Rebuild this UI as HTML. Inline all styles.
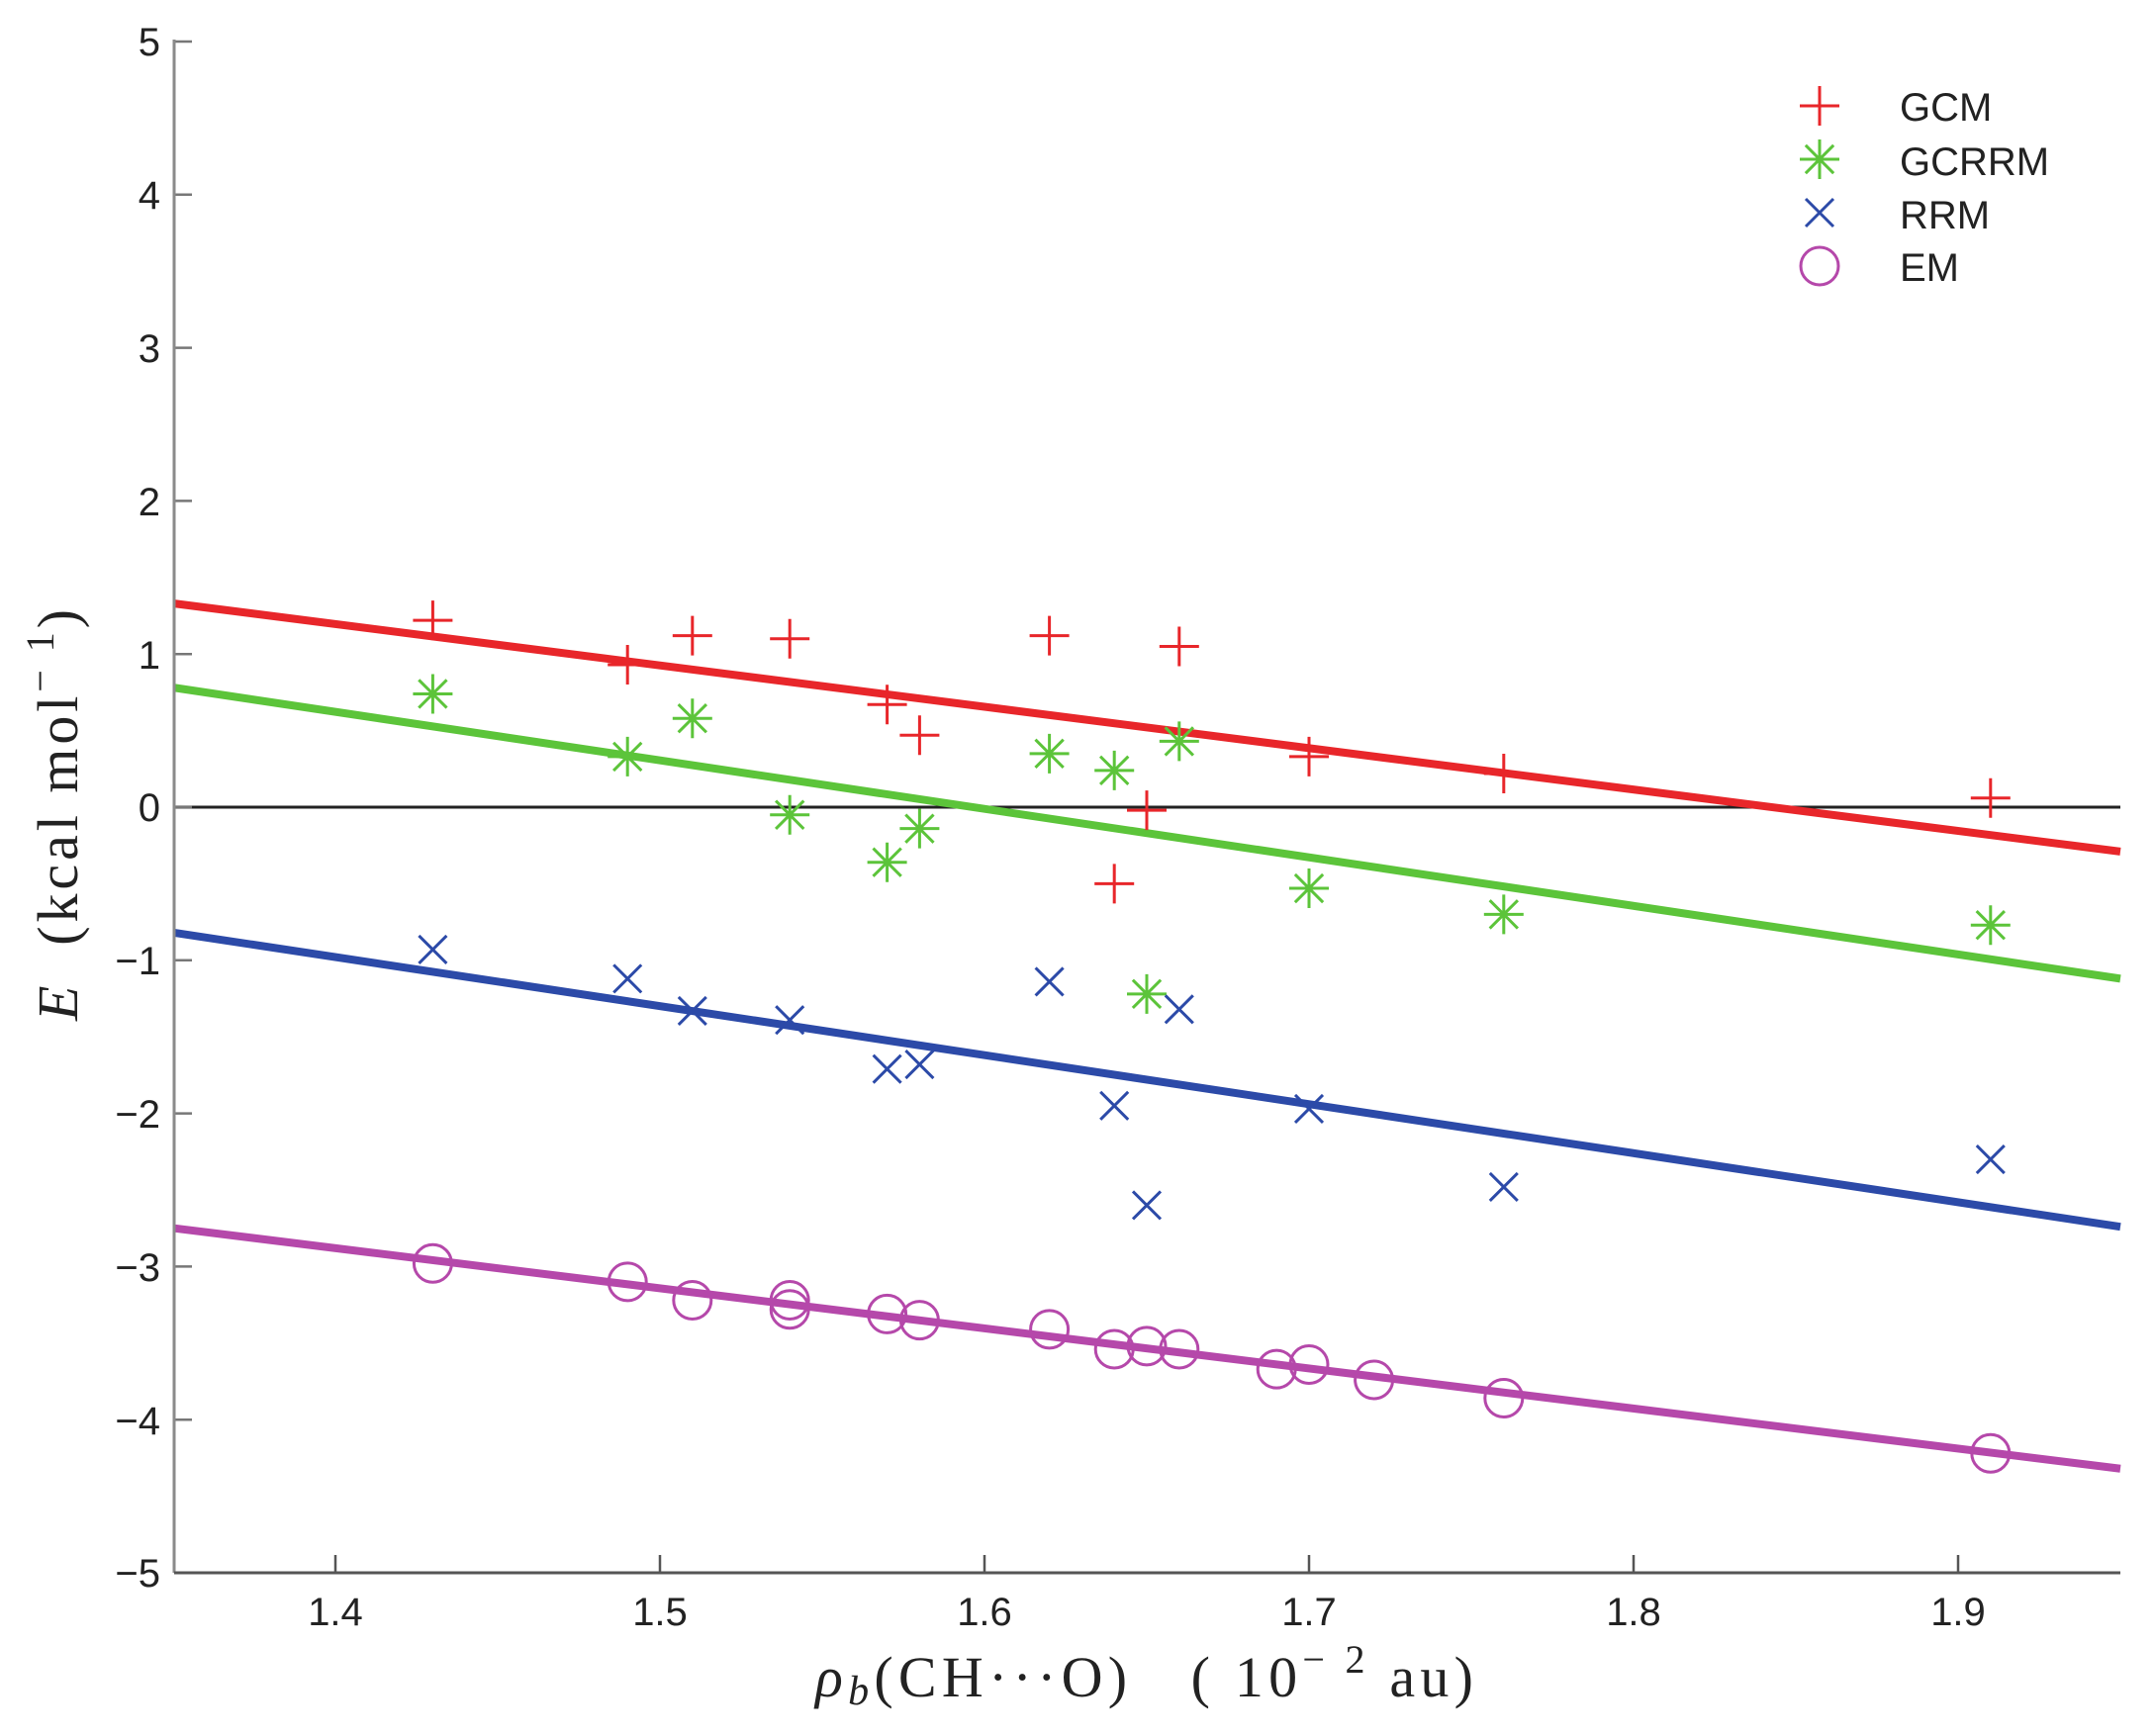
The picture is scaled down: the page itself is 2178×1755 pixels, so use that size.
<!DOCTYPE html>
<html><head><meta charset="utf-8"><style>
html,body{margin:0;padding:0;background:#fff;}
svg{display:block;}
</style></head><body>
<svg id="s" width="2178" height="1755" viewBox="0 0 2178 1755" xmlns="http://www.w3.org/2000/svg">
<rect width="2178" height="1755" fill="#fff"/>
<g id="plot"></g>
<line x1="176" y1="40" x2="176" y2="1590" stroke="#8a8a8a" stroke-width="3"/>
<line x1="176" y1="1590" x2="2143" y2="1590" stroke="#555" stroke-width="3"/>
<g font-family="Liberation Sans, sans-serif" font-size="40" fill="#222" text-anchor="end">
<text x="162" y="56">5</text>
<text x="162" y="211">4</text>
<text x="162" y="366">3</text>
<text x="162" y="521">2</text>
<text x="162" y="676">1</text>
<text x="162" y="830">0</text>
<text x="162" y="985">−1</text>
<text x="162" y="1140">−2</text>
<text x="162" y="1295">−3</text>
<text x="162" y="1450">−4</text>
<text x="162" y="1604">−5</text>
</g>
<g font-family="Liberation Sans, sans-serif" font-size="40" fill="#222" text-anchor="middle">
<text x="339" y="1643">1.4</text>
<text x="667" y="1643">1.5</text>
<text x="995" y="1643">1.6</text>
<text x="1323" y="1643">1.7</text>
<text x="1651" y="1643">1.8</text>
<text x="1979" y="1643">1.9</text>
</g>
<text x="824" y="1715" font-family="Liberation Serif, serif" font-size="58" fill="#222" textLength="665" lengthAdjust="spacing" xml:space="preserve"><tspan font-style="italic">ρ</tspan><tspan font-style="italic" font-size="42" dy="8">b</tspan><tspan dy="-8">(CH···O)   ( 10</tspan><tspan font-size="40" dy="-24">− 2</tspan><tspan dy="24"> au)</tspan></text>
<text transform="translate(78,1032) rotate(-90)" font-family="Liberation Serif, serif" font-size="58" fill="#222" textLength="416" lengthAdjust="spacing" xml:space="preserve"><tspan font-style="italic">E</tspan>  (kcal mol<tspan font-size="40" dy="-24">− 1</tspan><tspan dy="24">)</tspan></text>
<g font-family="Liberation Sans, sans-serif" font-size="40" fill="#222">
<text x="1920" y="122">GCM</text>
<text x="1920" y="177">GCRRM</text>
<text x="1920" y="231">RRM</text>
<text x="1920" y="284">EM</text>
</g>
<g id="leg"></g>
</svg>
<script>
var NS="http://www.w3.org/2000/svg";
function X(u){return 339+3280*(u-1.4);}
function Y(v){return 816-154.8*v;}
var plot=document.getElementById('plot'),leg=document.getElementById('leg');
function el(p,t,a){var e=document.createElementNS(NS,t);for(var k in a)e.setAttribute(k,a[k]);p.appendChild(e);return e;}
var R='#e8262a',G='#5cc43a',B='#2c4aa8',M='#b548aa';
function plus(p,x,y,c){el(p,'path',{d:'M'+(x-20)+' '+y+'h40M'+x+' '+(y-20)+'v40',stroke:c,'stroke-width':3,fill:'none'});}
function star(p,x,y,c){var d='';for(var i=0;i<4;i++){var a=i*Math.PI/4,dx=20*Math.sin(a),dy=20*Math.cos(a);d+='M'+(x-dx)+' '+(y-dy)+'L'+(x+dx)+' '+(y+dy);}el(p,'path',{d:d,stroke:c,'stroke-width':3,fill:'none'});}
function cross(p,x,y,c){var s=14;el(p,'path',{d:'M'+(x-s)+' '+(y-s)+'L'+(x+s)+' '+(y+s)+'M'+(x-s)+' '+(y+s)+'L'+(x+s)+' '+(y-s),stroke:c,'stroke-width':3,fill:'none'});}
function circ(p,x,y,c){el(p,'circle',{cx:x,cy:y,r:19,stroke:c,'stroke-width':3,fill:'none'});}
el(plot,'line',{x1:176,y1:Y(0),x2:2143,y2:Y(0),stroke:'#222','stroke-width':3});
[1.4,1.5,1.6,1.7,1.8,1.9].forEach(function(u){el(plot,'line',{x1:X(u),y1:1590,x2:X(u),y2:1572,stroke:'#555','stroke-width':2.5});});
for(var v=-5;v<=5;v++){el(plot,'line',{x1:176,y1:Y(v),x2:194,y2:Y(v),stroke:'#777','stroke-width':2.5});}
[[1.33,-0.29,R],[0.78,-1.12,G],[-0.82,-2.74,B],[-2.75,-4.32,M]].forEach(function(l){el(plot,'line',{x1:176,y1:Y(l[0]),x2:2143,y2:Y(l[1]),stroke:l[2],'stroke-width':8});});
var xs=[1.43,1.49,1.51,1.54,1.57,1.58,1.62,1.64,1.65,1.66,1.70,1.76,1.91];
var gcm=[1.22,0.93,1.12,1.1,0.67,0.47,1.12,-0.5,-0.02,1.05,0.33,0.22,0.06];
var gcr=[0.74,0.33,0.58,-0.05,-0.36,-0.14,0.35,0.24,-1.22,0.43,-0.53,-0.7,-0.77];
var rrm=[-0.93,-1.12,-1.33,-1.39,-1.71,-1.68,-1.14,-1.95,-2.6,-1.32,-1.97,-2.48,-2.3];
xs.forEach(function(u,i){plus(plot,X(u),Y(gcm[i]),R);star(plot,X(u),Y(gcr[i]),G);cross(plot,X(u),Y(rrm[i]),B);});
[[1.43,-2.98],[1.49,-3.1],[1.51,-3.22],[1.54,-3.22],[1.54,-3.28],[1.57,-3.31],[1.58,-3.35],[1.62,-3.41],[1.64,-3.54],[1.65,-3.52],[1.66,-3.54],[1.69,-3.67],[1.70,-3.64],[1.72,-3.74],[1.76,-3.86],[1.91,-4.22]].forEach(function(p){circ(plot,X(p[0]),Y(p[1]),M);});
plus(leg,1839,107,R);star(leg,1839,161,G);cross(leg,1839,215,B);circ(leg,1839,269,M);
</script>
</body></html>
